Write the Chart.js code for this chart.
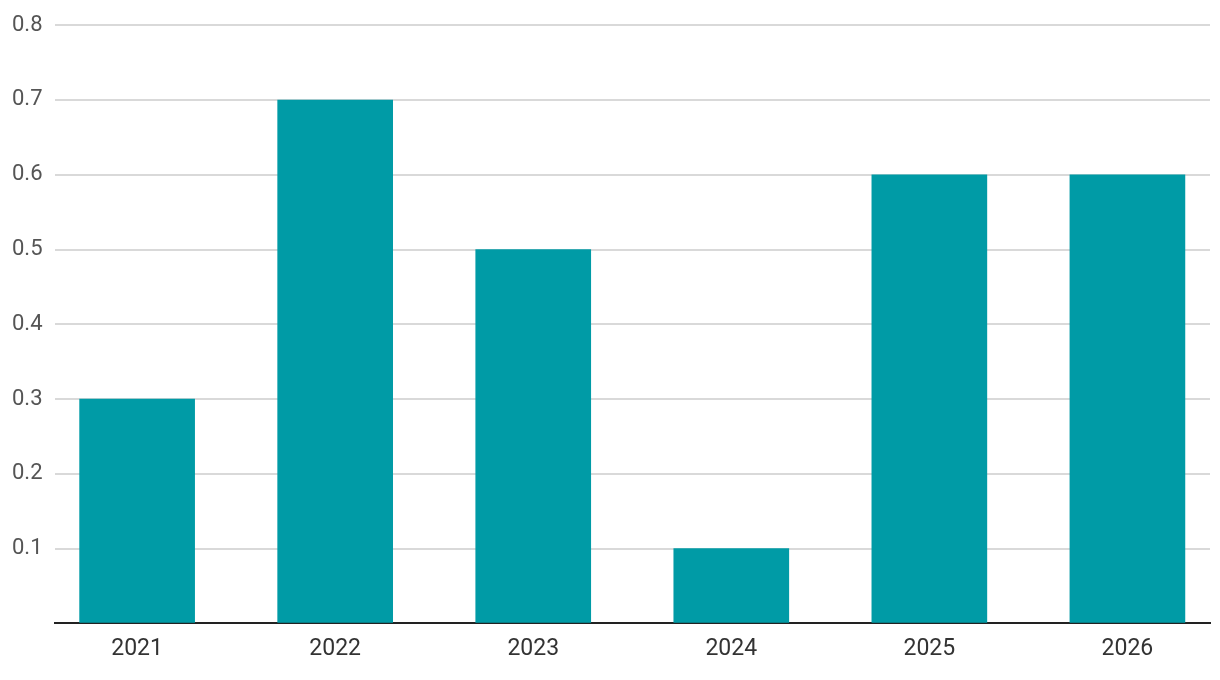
<!DOCTYPE html>
<html>
<head>
<meta charset="utf-8">
<script src="https://cdn.jsdelivr.net/npm/chart.js@4"></script>
<style>
  html, body { margin: 0; padding: 0; background: #fff; }
  #wrap { width: 1220px; height: 680px; }
</style>
</head>
<body>
<div id="wrap"><canvas id="myChart"></canvas></div>
<script>
const years = [2021, 2022, 2023, 2024, 2025, 2026];
const values = [0.3, 0.7, 0.5, 0.1, 0.6, 0.6];
const yTicks = [0, 0.1, 0.2, 0.3, 0.4, 0.5, 0.6, 0.7, 0.8];

Chart.defaults.font.family = 'Roboto';

const ctx = document.getElementById('myChart').getContext('2d');
const myChart = new Chart(ctx, {
    type: 'bar',
    data: {
        datasets: [{
            data: years.map((y, i) => ({ x: y, y: values[i] })),
            backgroundColor: '#009ba6',
            barThickness: 115
        }]
    },
    options: {
        responsive: true,
        maintainAspectRatio: false,
        animation: false,
        layout: { padding: { top: 12, right: 10, left: 0, bottom: 5 } },
        plugins: {
            legend: { display: false },
            tooltip: { enabled: false }
        },
        scales: {
            x: {
                type: 'linear',
                offset: false,
                min: 2020.583,
                max: 2026.417,
                afterBuildTicks: scale => { scale.ticks = years.map(v => ({ value: v })); },
                grid: { display: false, drawTicks: false },
                border: { display: true, color: '#222', width: 2 },
                ticks: {
                    color: '#333',
                    padding: 12,
                    maxRotation: 0,
                    font: { size: 23 },
                    callback: v => String(v)
                }
            },
            y: {
                min: 0,
                max: 0.8,
                afterBuildTicks: scale => { scale.ticks = yTicks.map(v => ({ value: v })); },
                grid: { color: '#d9d9d9', lineWidth: 2, drawTicks: false },
                border: { display: false },
                ticks: {
                    color: '#555',
                    padding: 12,
                    font: { size: 22 },
                    callback: v => v === 0 ? '' : v.toFixed(1)
                }
            }
        }
    }
});
</script>
</body>
</html>
